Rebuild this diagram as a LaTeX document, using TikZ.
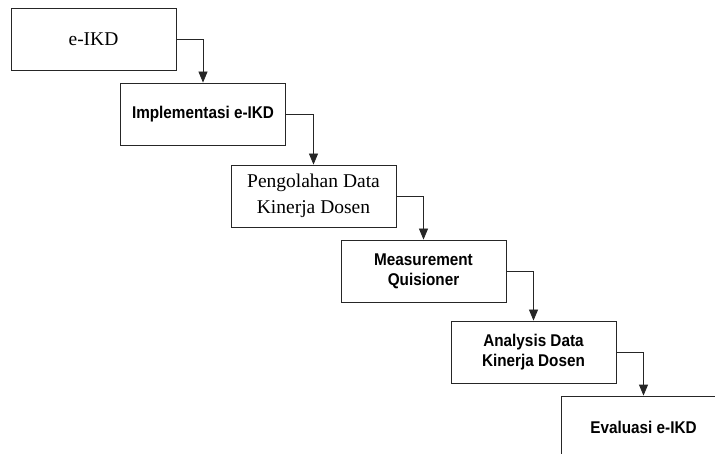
\documentclass[tikz,border=0pt]{standalone}
\usepackage{fontspec}
\setmainfont{Liberation Serif}
\newfontfamily\arialb[FakeStretch=0.9]{Liberation Sans Bold}
\usetikzlibrary{arrows.meta}
\begin{document}
\begin{tikzpicture}[x=1pt,y=-1pt,
  box/.style={draw=black!85,line width=0.8pt,minimum width=165pt,minimum height=62pt,inner sep=0pt,align=center},
  serif/.style={font=\fontsize{19.5}{26}\selectfont},
  sans/.style={font=\arialb\fontsize{17}{20}\selectfont},
  arr/.style={draw=black!85,line width=0.8pt,-{Triangle[length=11pt,width=9pt]}}]
\clip (0,0) rectangle (715,454);
\node[box,serif] (b1) at (93.5,39) {e-IKD};
\node[box,sans] (b2) at (203,114) {Implementasi e-IKD};
\node[box,serif] (b3) at (313.5,196) {Pengolahan Data\\Kinerja Dosen};
\node[box,sans] (b4) at (423.5,271) {Measurement\\Quisioner};
\node[box,sans] (b5) at (533.5,352) {Analysis Data\\Kinerja Dosen};
\node[box,sans] (b6) at (643.5,427) {Evaluasi e-IKD};
\draw[arr] (b1.east) -| (b2.north);
\draw[arr] (b2.east) -| (b3.north);
\draw[arr] (b3.east) -| (b4.north);
\draw[arr] (b4.east) -| (b5.north);
\draw[arr] (b5.east) -| (b6.north);
\end{tikzpicture}
\end{document}
